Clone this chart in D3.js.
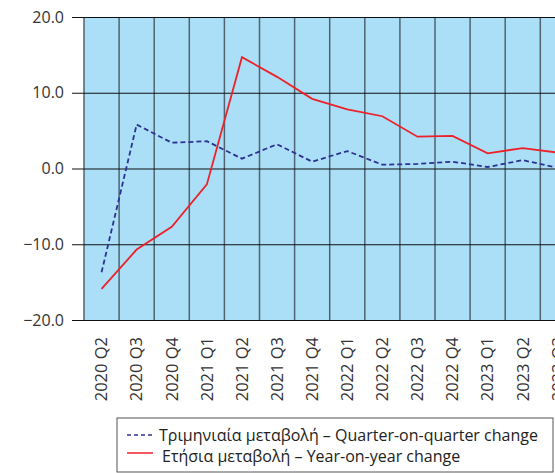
<!DOCTYPE html>
<html>
<head>
<meta charset="utf-8">
<script src="https://cdn.jsdelivr.net/npm/d3@7"></script>
<style>
	body { margin: 0; background: #fff; }
	svg { display: block; font-family: 'Open Sans', sans-serif; }
</style>
</head>
<body>
<div id="chart"></div>
<script>
// quarters shown on the x axis (the last one is cut by the frame)
const quarters = [
	'2020 Q2', '2020 Q3', '2020 Q4', '2021 Q1', '2021 Q2', '2021 Q3', '2021 Q4',
	'2022 Q1', '2022 Q2', '2022 Q3', '2022 Q4', '2023 Q1', '2023 Q2', '2023 Q3'
]
const quarterOnQuarter = [-13.7, 5.8, 3.4, 3.6, 1.3, 3.2, 0.9, 2.3, 0.5, 0.6, 0.9, 0.2, 1.1, 0.1]
const yearOnYear = [-15.9, -10.7, -7.7, -2.1, 14.7, 12.1, 9.2, 7.8, 6.9, 4.2, 4.3, 2.0, 2.7, 2.1]
const yTicks = [-20, -10, 0, 10, 20]
const legendLabels = [
	'Τριμηνιαία μεταβολή – Quarter-on-quarter change',
	'Ετήσια μεταβολή – Year-on-year change'
]

const width = 555,
	height = 473
const margin = { top: 17, left: 84, bottom: 320 }
const plotRight = margin.left + quarters.length * 35.1

const svg = d3
	.select('#chart')
	.append('svg')
	.attr('width', width)
	.attr('height', height)

const x = d3
	.scaleBand()
	.domain(quarters)
	.range([margin.left, plotRight])

const y = d3
	.scaleLinear()
	.domain([-20, 20])
	.range([margin.bottom, margin.top])

// plot background
svg.append('rect')
	.attr('x', margin.left)
	.attr('y', margin.top)
	.attr('width', plotRight - margin.left)
	.attr('height', margin.bottom - margin.top)
	.attr('fill', '#abdff8')

// vertical grid between quarters
svg.append('g')
	.selectAll('line')
	.data(quarters)
	.enter()
	.append('line')
	.attr('x1', d => x(d))
	.attr('x2', d => x(d))
	.attr('y1', margin.top)
	.attr('y2', margin.bottom)
	.attr('stroke', '#4f6470')
	.attr('stroke-width', 1.5)

// horizontal grid + y axis
const yAxis = svg
	.append('g')
	.attr('transform', `translate(${margin.left},0)`)
	.call(
		d3
			.axisLeft(y)
			.tickValues(yTicks)
			.tickSize(-(plotRight - margin.left))
			.tickFormat(d3.format('.1f'))
	)
yAxis.select('.domain').remove()
yAxis.selectAll('.tick line')
	.attr('x1', -12)
	.attr('stroke', '#111')
	.attr('stroke-width', 1.2)
yAxis.selectAll('.tick text')
	.attr('x', -20)
	.attr('fill', '#333')
	.style('font-size', '16px')
	.style('font-family', "'Open Sans', sans-serif")

// x axis labels, rotated
const xAxis = svg
	.append('g')
	.attr('transform', `translate(0,${margin.bottom})`)
	.call(d3.axisBottom(x).tickSize(0))
xAxis.select('.domain').remove()
xAxis.selectAll('.tick text')
	.attr('transform', 'rotate(-90)')
	.attr('x', -17)
	.attr('y', 0)
	.attr('dy', '0.35em')
	.attr('text-anchor', 'end')
	.attr('fill', '#333')
	.style('font-size', '16.5px')
	.style('font-family', "'Open Sans', sans-serif")

const line = d3
	.line()
	.x((d, i) => x(quarters[i]) + x.bandwidth() / 2)
	.y(d => y(d))

svg.append('path')
	.datum(yearOnYear)
	.attr('d', line)
	.attr('fill', 'none')
	.attr('stroke', '#ee2128')
	.attr('stroke-width', 1.8)

svg.append('path')
	.datum(quarterOnQuarter)
	.attr('d', line)
	.attr('fill', 'none')
	.attr('stroke', '#2e3192')
	.attr('stroke-width', 1.8)
	.attr('stroke-dasharray', '5,3')

// legend
const legend = svg.append('g')
legend.append('rect')
	.attr('x', 117)
	.attr('y', 418)
	.attr('width', 436)
	.attr('height', 54)
	.attr('fill', '#fff')
	.attr('stroke', '#555')
	.attr('stroke-width', 1)

const legendStyles = [
	{ color: '#2e3192', dash: '4,3', textX: 159 },
	{ color: '#ee2128', dash: null, textX: 162 }
]
legendLabels.forEach((label, i) => {
	const ly = 435 + i * 21
	legend.append('line')
		.attr('x1', 127)
		.attr('x2', 153)
		.attr('y1', ly - (i ? 3 : 0))
		.attr('y2', ly - (i ? 3 : 0))
		.attr('stroke', legendStyles[i].color)
		.attr('stroke-width', 1.5)
		.attr('stroke-dasharray', legendStyles[i].dash)
	legend.append('text')
		.attr('x', legendStyles[i].textX)
		.attr('y', ly)
		.attr('dy', '0.35em')
		.attr('fill', '#222')
		.style('font-size', '16px')
		.text(label)
})
</script>
</body>
</html>
